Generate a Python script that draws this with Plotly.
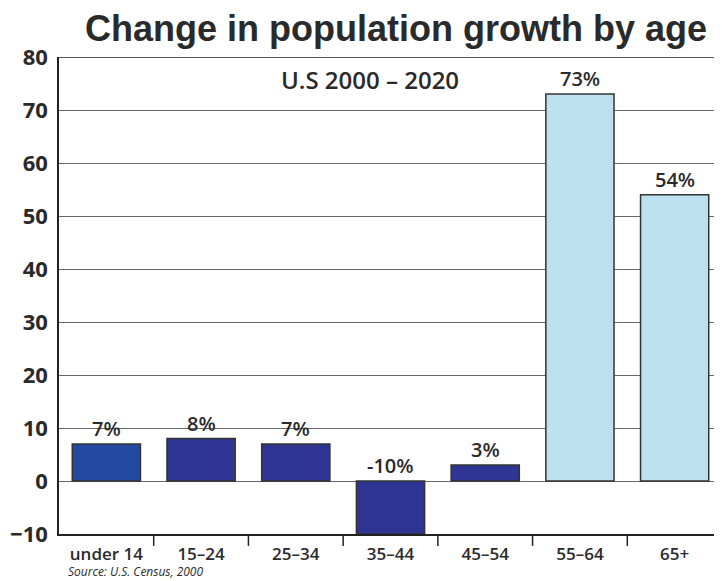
import plotly.graph_objects as go

categories = ["under 14", "15–24", "25–34", "35–44", "45–54", "55–64", "65+"]
values = [7, 8, 7, -10, 3, 73, 54]
bar_colors = ["#234aa0", "#2e3592", "#2e3592", "#2e3592", "#2e3592", "#bde0ef", "#bde0ef"]
y_ticks = [-10, 0, 10, 20, 30, 40, 50, 60, 70, 80]

FONT = "Open Sans"
TITLE_FONT = "Liberation Sans, Arial, sans-serif"

fig = go.Figure()
fig.add_trace(go.Bar(
    x=categories, y=values,
    marker=dict(color=bar_colors, line=dict(color="#333333", width=1.5)),
    width=0.72,
    hoverinfo="x+y",
))

for c, v in zip(categories, values):
    fig.add_annotation(x=c, y=max(v, 0), text=f"{v}%", showarrow=False,
                       yanchor="bottom", yshift=0,
                       font=dict(family=FONT, size=20, color="#2a2a2a", weight=600))

fig.add_annotation(x=0.469, xref="paper", y=75.7, yref="y", text="U.S 2000 – 2020",
                   showarrow=False, font=dict(family=FONT, size=24, color="#2a2a2a", weight=600))

fig.add_annotation(x=0.0106, xref="paper", y=-0.079, yref="paper", text="<i>Source: U.S. Census, 2000</i>",
                   showarrow=False, xanchor="left", yanchor="middle",
                   font=dict(family=FONT, size=12, color="#2a2a2a"))

# top border line
fig.add_shape(type="line", xref="paper", yref="y", x0=0, x1=1, y0=80, y1=80,
              line=dict(color="#222222", width=1.5))

# category boundary ticks below the axis
for i in range(len(categories) - 1):
    fig.add_shape(type="line", xref="x", yref="paper", x0=i + 0.5, x1=i + 0.5,
                  y0=0, y1=-0.025, line=dict(color="#222222", width=1.5))

fig.update_layout(
    width=714, height=573,
    margin=dict(l=51, r=0, t=49, b=47),
    plot_bgcolor="white", paper_bgcolor="white",
    showlegend=False,
    bargap=0.28,
    title=dict(text="<b>Change in population growth by age</b>", x=0.5434, xanchor="center",
               xref="container", y=0.965, yanchor="middle",
               font=dict(family=TITLE_FONT, size=36, color="#2a2a2a")),
    xaxis=dict(
        range=[-0.5, 6.5], showline=True, linecolor="#222222", linewidth=1.5,
        ticks="", ticklabelstandoff=4,
        tickfont=dict(family=FONT, size=17, color="#2a2a2a", weight=600),
        showgrid=False, fixedrange=True, automargin=False,
    ),
    yaxis=dict(
        range=[-10, 80], tickvals=y_ticks, showline=True, linecolor="#222222", linewidth=1.5,
        showgrid=True, gridcolor="#666666", gridwidth=1,
        zeroline=True, zerolinecolor="#666666", zerolinewidth=1,
        ticks="", ticklabelstandoff=5,
        tickfont=dict(family=FONT, size=22, color="#2a2a2a", weight="bold"),
        fixedrange=True, automargin=False,
    ),
)

fig.write_html("out.html")
